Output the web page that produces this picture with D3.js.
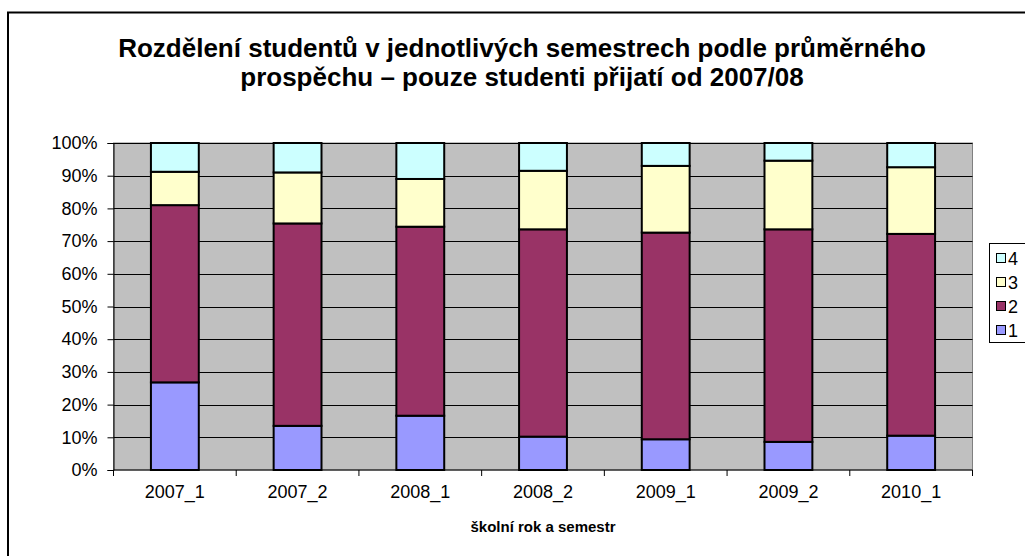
<!DOCTYPE html>
<html>
<head>
<meta charset="utf-8">
<script src="https://cdn.jsdelivr.net/npm/d3@7"></script>
<style>
  body { margin: 0; background: #fff; }
  text { font-family: "Liberation Sans", Arial, sans-serif; }
</style>
</head>
<body>
<div id="chart"></div>
<script>
// semesters on the x axis
const semesters = ["2007_1", "2007_2", "2008_1", "2008_2", "2009_1", "2009_2", "2010_1"];
// share of students per grade band (percent)
const band1 = [26.8, 13.5, 16.6, 10.2, 9.4, 8.6, 10.5];
const band2 = [54.2, 61.9, 57.8, 63.4, 63.2, 65.0, 61.7];
const band3 = [10.2, 15.6, 14.6, 17.9, 20.4, 21.0, 20.4];
const band4 = [8.8, 9.0, 11.0, 8.5, 7.0, 5.4, 7.4];
const seriesNames = ["1", "2", "3", "4"];
const yTicks = [0, 10, 20, 30, 40, 50, 60, 70, 80, 90, 100];

const width = 1025, height = 556;
const colors = { "1": "#9999FF", "2": "#993366", "3": "#FFFFCC", "4": "#CCFFFF" };

const rows = semesters.map((s, i) => ({
    sem: s, "1": band1[i], "2": band2[i], "3": band3[i], "4": band4[i]
}));
const stacked = d3.stack().keys(seriesNames)
    .offset(d3.stackOffsetExpand)(rows);

const svg = d3.select("#chart").append("svg")
    .attr("width", width)
    .attr("height", height);

// outer chart border
svg.append("rect")
    .attr("x", 8).attr("y", 12.5)
    .attr("width", width + 10).attr("height", height + 10)
    .attr("fill", "#fff")
    .attr("stroke", "#000")
    .attr("stroke-width", 2);

const plot = { left: 113.5, right: 972.5, top: 143, bottom: 470 };

const x = d3.scaleBand()
    .domain(semesters)
    .range([plot.left, plot.right])
    .paddingInner(0.61)
    .paddingOuter(0.305);

const xb = d3.scaleBand().domain(semesters).range([plot.left, plot.right]);

const y = d3.scaleLinear().domain([0, 1]).range([plot.bottom, plot.top]);

// plot background
svg.append("rect")
    .attr("x", plot.left).attr("y", plot.top)
    .attr("width", plot.right - plot.left)
    .attr("height", plot.bottom - plot.top)
    .attr("fill", "#C0C0C0")
    .attr("stroke", "#808080")
    .attr("stroke-width", 1);

// gridlines
svg.append("g")
    .selectAll("line")
    .data(yTicks.slice(1))
    .join("line")
    .attr("x1", plot.left).attr("x2", plot.right)
    .attr("y1", d => Math.round(y(d / 100)) + 0.5)
    .attr("y2", d => Math.round(y(d / 100)) + 0.5)
    .attr("stroke", "#000")
    .attr("stroke-width", 1);

// bars
svg.append("g")
    .selectAll("g")
    .data(stacked)
    .join("g")
    .attr("fill", d => colors[d.key])
    .selectAll("rect")
    .data(d => d)
    .join("rect")
    .attr("x", d => x(d.data.sem))
    .attr("y", d => y(d[1]))
    .attr("width", x.bandwidth())
    .attr("height", d => y(d[0]) - y(d[1]))
    .attr("stroke", "#000")
    .attr("stroke-width", 2);

// y axis
const yAxis = svg.append("g")
    .attr("transform", `translate(${plot.left},0)`)
    .call(d3.axisLeft(y)
        .tickValues(yTicks.map(v => v / 100))
        .tickFormat(d => Math.round(d * 100) + "%")
        .tickSize(6)
        .tickPadding(10));
yAxis.select(".domain").attr("stroke", "#000");
yAxis.selectAll("line").attr("stroke", "#000");
yAxis.selectAll("text")
    .attr("font-size", 18)
    .attr("fill", "#000")
    .style("font-family", "'Liberation Sans', Arial, sans-serif");

// x axis with ticks between categories
const xAxis = svg.append("g")
    .attr("transform", `translate(0,${plot.bottom})`);
xAxis.append("line")
    .attr("x1", plot.left).attr("x2", plot.right)
    .attr("y1", 0).attr("y2", 0)
    .attr("stroke", "#000");
xAxis.selectAll(".tk")
    .data(semesters.concat(["end"]))
    .join("line")
    .attr("class", "tk")
    .attr("x1", (d, i) => i < semesters.length ? xb(d) : plot.right)
    .attr("x2", (d, i) => i < semesters.length ? xb(d) : plot.right)
    .attr("y1", 0).attr("y2", 6)
    .attr("stroke", "#000");
xAxis.selectAll("text")
    .data(semesters)
    .join("text")
    .attr("x", d => xb(d) + xb.bandwidth() / 2)
    .attr("y", 28)
    .attr("text-anchor", "middle")
    .attr("font-size", 18)
    .text(d => d);

// axis title
svg.append("text")
    .attr("x", (plot.left + plot.right) / 2)
    .attr("y", 531.5)
    .attr("text-anchor", "middle")
    .attr("font-size", 15)
    .attr("font-weight", "bold")
    .text("školní rok a semestr");

// chart title
const title = svg.append("text")
    .attr("text-anchor", "middle")
    .attr("font-size", 26)
    .attr("font-weight", "bold");
title.append("tspan").attr("x", 522).attr("y", 57)
    .text("Rozdělení studentů v jednotlivých semestrech podle průměrného");
title.append("tspan").attr("x", 522).attr("y", 86)
    .text("prospěchu – pouze studenti přijatí od 2007/08");

// legend
const legend = svg.append("g");
legend.append("rect")
    .attr("x", 989.5).attr("y", 243.5)
    .attr("width", 60).attr("height", 99)
    .attr("fill", "#fff")
    .attr("stroke", "#000");
const items = legend.selectAll(".item")
    .data(seriesNames.slice().reverse())
    .join("g")
    .attr("class", "item")
    .attr("transform", (d, i) => `translate(996,${253 + i * 24})`);
items.append("rect")
    .attr("x", 0.5).attr("y", 0.5)
    .attr("width", 9).attr("height", 9)
    .attr("fill", d => colors[d])
    .attr("stroke", "#000");
items.append("text")
    .attr("x", 12).attr("y", 11.5)
    .attr("font-size", 18)
    .text(d => d);
</script>
</body>
</html>
